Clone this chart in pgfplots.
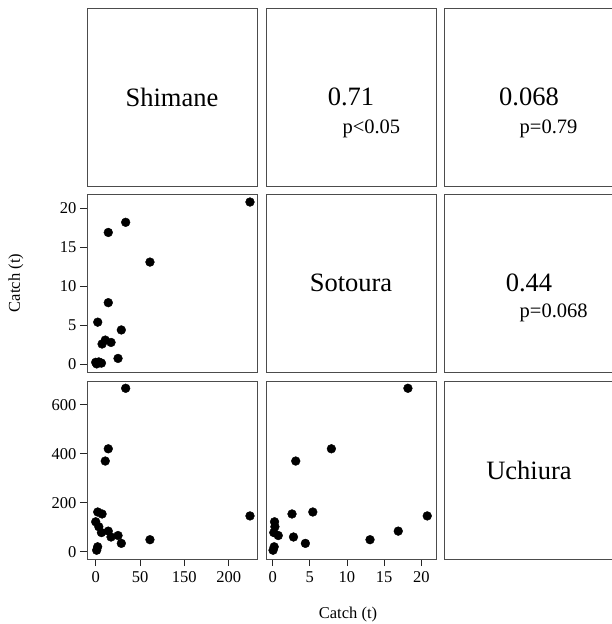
\documentclass[border=0pt]{standalone}
\usepackage{fontspec}
\setmainfont{Liberation Serif}
\usepackage{pgfplots}
\usepackage{pgfplotstable}
\pgfplotsset{compat=1.18}
\pgfplotstableread{
sh so u
33.8 18.2 667
14.2 7.9 420
10.8 3.1 370
2.3 5.4 162
7.2 2.6 154
174 20.8 146
0 0.25 122
3.5 0.3 102
6.5 0.15 78
25.2 0.75 66
17.3 2.8 60
14.2 16.9 84
61.2 13.1 49
28.9 4.4 34
2.2 0.2 20
1.1 0.05 6
}\catch
\pgfplotsset{
  panel/.style={scale only axis, width=170pt, height=178pt, anchor=south west,
    axis line style={black!70, line width=0.7pt},
    xtick=\empty, ytick=\empty,
    tick label style={font=\fontsize{16.5}{18}\selectfont},
    xticklabel style={yshift=-2pt},
    /pgf/number format/assume math mode=true,
    major tick length=7pt, tick align=outside,
    tick style={black!85, line width=0.7pt},
    clip=false},
  txt/.style={panel, xmin=0, xmax=1, ymin=0, ymax=1},
}
\tikzset{
  pts/.style={only marks, mark=*, mark size=4.4pt, black},
  big/.style={font=\fontsize{26.5}{30}\selectfont},
  small/.style={font=\fontsize{20.5}{24}\selectfont},
}
\begin{document}
\begin{tikzpicture}
% row 1
\begin{axis}[txt, at={(87pt,438pt)}]
\node[big] at (rel axis cs:0.5,0.5) {Shimane};
\end{axis}
\begin{axis}[txt, at={(266pt,438pt)}]
\node[big] at (rel axis cs:0.5,0.5) {0.71};
\node[small] at (rel axis cs:0.62,0.32) {p<0.05};
\end{axis}
\begin{axis}[txt, at={(444pt,438pt)}]
\node[big] at (rel axis cs:0.5,0.5) {0.068};
\node[small] at (rel axis cs:0.615,0.32) {p=0.79};
\end{axis}
% row 2
\begin{axis}[panel, at={(87pt,252pt)}, xmin=-9.8, xmax=181.9, ymin=-0.99, ymax=21.83,
  ytick={0,5,10,15,20}, ytick pos=left]
\addplot[pts] table[x=sh, y=so] {\catch};
\end{axis}
\begin{axis}[txt, at={(266pt,252pt)}]
\node[big] at (rel axis cs:0.5,0.5) {Sotoura};
\end{axis}
\begin{axis}[txt, at={(444pt,252pt)}]
\node[big] at (rel axis cs:0.5,0.5) {0.44};
\node[small] at (rel axis cs:0.645,0.33) {p=0.068};
\end{axis}
% row 3
\begin{axis}[panel, at={(87pt,65pt)}, xmin=-9.8, xmax=181.9, ymin=-29.8, ymax=696.7,
  ytick={0,200,400,600}, ytick pos=left,
  xtick={0,50,100,150}, xticklabels={0,50,150,200}, xtick pos=left]
\addplot[pts] table[x=sh, y=u] {\catch};
\end{axis}
\begin{axis}[panel, at={(266pt,65pt)}, xmin=-0.9, xmax=21.98, ymin=-29.8, ymax=696.7,
  xtick={0,5,10,15,20}, xtick pos=left]
\addplot[pts] table[x=so, y=u] {\catch};
\end{axis}
\begin{axis}[txt, at={(444pt,65pt)}]
\node[big] at (rel axis cs:0.5,0.5) {Uchiura};
\end{axis}
\node[rotate=90, font=\fontsize{16.5}{18}\selectfont] at (16pt,341pt) {Catch (t)};
\node[font=\fontsize{16.5}{18}\selectfont] at (348pt,9pt) {Catch (t)};
\pgfresetboundingbox
\path[use as bounding box] (0pt,0pt) rectangle (612pt,624pt);
\end{tikzpicture}
\end{document}
